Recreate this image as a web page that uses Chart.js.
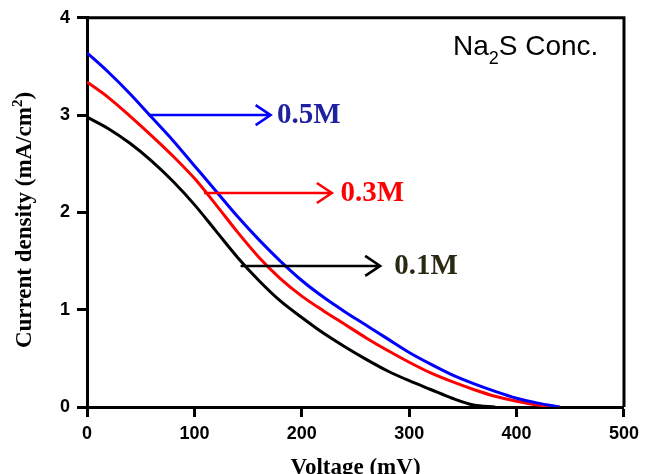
<!DOCTYPE html>
<html>
<head>
<meta charset="utf-8">
<script src="https://cdn.jsdelivr.net/npm/chart.js@4.4.1/dist/chart.umd.min.js"></script>
<style>
  html, body { margin: 0; padding: 0; background: #fff; }
  #wrap { width: 645px; height: 474px; }
</style>
</head>
<body>
<div id="wrap"><canvas id="ivChart"></canvas></div>
<script>
// voltage (mV) and current density (mA/cm2)
const voltage = [0, 20, 40, 60, 80, 100, 120, 140, 160, 180, 200, 220, 240, 260, 280, 300, 320, 340, 360, 380, 400, 420, 440];
const conc05 = [3.64, 3.44, 3.22, 2.98, 2.74, 2.48, 2.22, 1.96, 1.72, 1.50, 1.30, 1.13, 0.98, 0.84, 0.70, 0.56, 0.44, 0.33, 0.24, 0.16, 0.09, 0.04, 0.00];
const conc03 = [3.34, 3.18, 2.99, 2.79, 2.58, 2.35, 2.08, 1.80, 1.54, 1.32, 1.14, 0.99, 0.85, 0.71, 0.58, 0.46, 0.35, 0.26, 0.18, 0.11, 0.06, 0.02, 0.00];
const conc01 = [2.98, 2.86, 2.71, 2.53, 2.32, 2.08, 1.81, 1.54, 1.30, 1.09, 0.92, 0.76, 0.62, 0.49, 0.37, 0.27, 0.18, 0.09, 0.02, 0.00, null, null, null];
const seriesLabels = ['0.5M', '0.3M', '0.1M'];
const xTicks = [0, 100, 200, 300, 400, 500];
const yTicks = [0, 1, 2, 3, 4];

function pts(vals) {
    return voltage.map((v, i) => ({ x: v, y: vals[i] }));
}

// arrow call-outs, in data units
const callouts = [
    { level: 3.0,  from: 57,  to: 171, textAt: 177, text: seriesLabels[0], line: '#0000ff', color: '#1f22a0' },
    { level: 2.2,  from: 109, to: 228, textAt: 236, text: seriesLabels[1], line: '#ff0000', color: '#ff0000' },
    { level: 1.45, from: 143, to: 273, textAt: 286, text: seriesLabels[2], line: '#000000', color: '#2a2914' }
];

const serif = '"Liberation Serif", "Times New Roman", serif';
const sans = '"Liberation Sans", Arial, sans-serif';

const extras = {
    id: 'extras',
    afterDraw(chart) {
        const { ctx, chartArea: a, scales: { x, y } } = chart;
        ctx.save();
        // box top + right
        ctx.strokeStyle = '#000';
        ctx.lineWidth = 3;
        ctx.beginPath();
        ctx.moveTo(a.left - 1.5, a.top);
        ctx.lineTo(a.right, a.top);
        ctx.lineTo(a.right, a.bottom);
        ctx.stroke();

        callouts.forEach(c => {
            const py = y.getPixelForValue(c.level);
            const x0 = x.getPixelForValue(c.from);
            const x1 = x.getPixelForValue(c.to);
            ctx.strokeStyle = c.line;
            ctx.lineWidth = 2.5;
            ctx.beginPath();
            ctx.moveTo(x0, py);
            ctx.lineTo(x1, py);
            ctx.moveTo(x1 - 15, py - 10);
            ctx.lineTo(x1, py);
            ctx.lineTo(x1 - 15, py + 10);
            ctx.stroke();
            ctx.fillStyle = c.color;
            ctx.font = 'bold 29px ' + serif;
            ctx.textBaseline = 'alphabetic';
            ctx.textAlign = 'left';
            ctx.fillText(c.text, x.getPixelForValue(c.textAt), py + 8);
        });

        // Na2S Conc.
        ctx.fillStyle = '#000';
        ctx.textBaseline = 'alphabetic';
        ctx.textAlign = 'left';
        let tx = 453, ty = 55;
        ctx.font = '28px ' + sans;
        ctx.fillText('Na', tx, ty);
        tx += ctx.measureText('Na').width;
        ctx.font = '18px ' + sans;
        ctx.fillText('2', tx, ty + 9);
        tx += ctx.measureText('2').width;
        ctx.font = '28px ' + sans;
        ctx.fillText('S Conc.', tx, ty);

        // x title
        ctx.font = 'bold 23px ' + serif;
        ctx.textAlign = 'center';
        ctx.fillText('Voltage (mV)', (a.left + a.right) / 2, 474);

        // y title with superscript
        ctx.translate(31, 220);
        ctx.rotate(-Math.PI / 2);
        const big = 'bold 23px ' + serif, small = 'bold 15px ' + serif;
        ctx.font = big;
        const w1 = ctx.measureText('Current density (mA/cm').width;
        const w3 = ctx.measureText(')').width;
        ctx.font = small;
        const w2 = ctx.measureText('2').width;
        let sx = -(w1 + w2 + w3) / 2;
        ctx.textAlign = 'left';
        ctx.font = big;
        ctx.fillText('Current density (mA/cm', sx, 0);
        sx += w1;
        ctx.font = small;
        ctx.fillText('2', sx, -9);
        sx += w2;
        ctx.font = big;
        ctx.fillText(')', sx, 0);
        ctx.restore();
    }
};

const ctx = document.getElementById('ivChart').getContext('2d');
const ivChart = new Chart(ctx, {
    type: 'line',
    data: {
        datasets: [{
            label: seriesLabels[0],
            data: pts(conc05),
            borderColor: '#0000ff',
            borderWidth: 3,
            pointRadius: 0,
            cubicInterpolationMode: 'monotone'
        }, {
            label: seriesLabels[1],
            data: pts(conc03),
            borderColor: '#ff0000',
            borderWidth: 3,
            pointRadius: 0,
            cubicInterpolationMode: 'monotone'
        }, {
            label: seriesLabels[2],
            data: pts(conc01),
            borderColor: '#000000',
            borderWidth: 3,
            pointRadius: 0,
            cubicInterpolationMode: 'monotone'
        }]
    },
    options: {
        responsive: true,
        maintainAspectRatio: false,
        animation: false,
        layout: { padding: { left: 0, right: 18, top: 16, bottom: 0 } },
        plugins: {
            legend: { display: false },
            tooltip: { enabled: false }
        },
        scales: {
            x: {
                type: 'linear',
                min: 0,
                max: 500,
                afterBuildTicks: s => { s.ticks = xTicks.map(v => ({ value: v })); },
                afterFit: s => { s.height = 67; },
                ticks: {
                    color: '#000',
                    padding: 6,
                    maxRotation: 0,
                    font: { family: sans, size: 18, weight: 'bold' }
                },
                grid: { drawOnChartArea: false, tickLength: 10, tickWidth: 3, color: '#000' },
                border: { display: true, color: '#000', width: 3 }
            },
            y: {
                min: 0,
                max: 4,
                afterBuildTicks: s => { s.ticks = yTicks.map(v => ({ value: v })); },
                afterFit: s => { s.width = 87; },
                ticks: {
                    color: '#000',
                    padding: 7,
                    font: { family: sans, size: 18, weight: 'bold' }
                },
                grid: { drawOnChartArea: false, tickLength: 10, tickWidth: 3, color: '#000' },
                border: { display: true, color: '#000', width: 3 }
            }
        }
    },
    plugins: [extras]
});
</script>
</body>
</html>
